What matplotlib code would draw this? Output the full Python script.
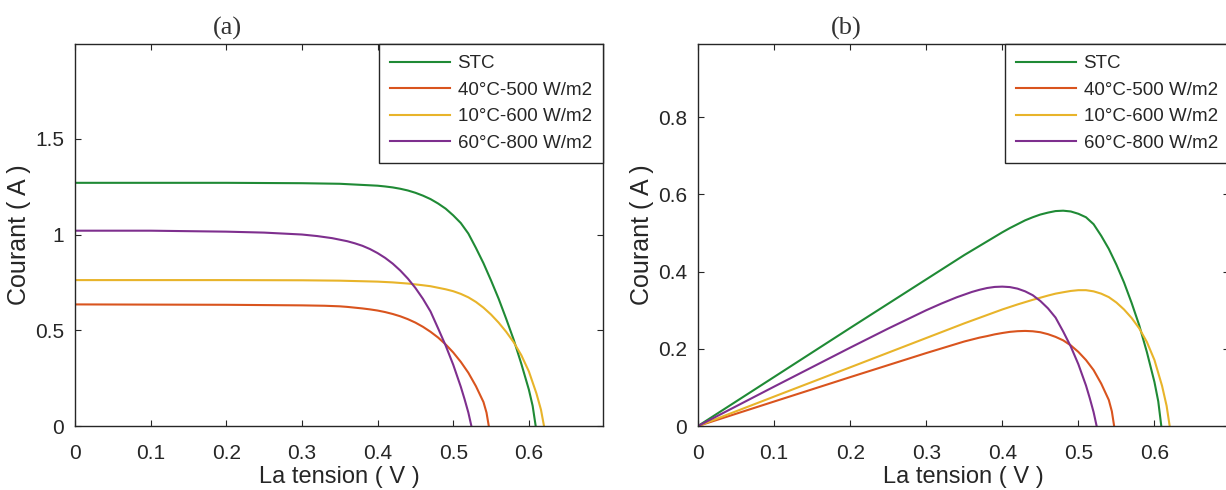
import numpy as np
import matplotlib.pyplot as plt

# --- data --------------------------------------------------------------
labels = ["STC", "40°C-500 W/m2", "10°C-600 W/m2", "60°C-800 W/m2"]
colors = ["#1f8a35", "#d9541e", "#e8b42a", "#7e2f8e"]

# (a) current vs voltage
v_stc = [0, 0.1, 0.2, 0.3, 0.35, 0.40, 0.41, 0.42, 0.43, 0.44, 0.45, 0.46, 0.47, 0.48, 0.49,
         0.50, 0.51, 0.52, 0.53, 0.54, 0.55, 0.56, 0.57, 0.58, 0.59, 0.60, 0.605, 0.609]
i_stc = [1.27, 1.27, 1.27, 1.268, 1.265, 1.255, 1.251, 1.246, 1.239, 1.23, 1.218, 1.203, 1.185,
         1.162, 1.135, 1.10, 1.06, 1.005, 0.93, 0.85, 0.76, 0.665, 0.56, 0.45, 0.325, 0.19, 0.105, 0.0]

v_40 = [0, 0.1, 0.2, 0.3, 0.33, 0.35, 0.36, 0.37, 0.38, 0.39, 0.40, 0.41, 0.42, 0.43, 0.44, 0.45,
        0.46, 0.47, 0.48, 0.49, 0.50, 0.51, 0.52, 0.53, 0.54, 0.544, 0.547]
i_40 = [0.635, 0.634, 0.633, 0.63, 0.628, 0.625, 0.622, 0.618, 0.614, 0.609, 0.603, 0.595, 0.585,
        0.573, 0.558, 0.54, 0.518, 0.492, 0.462, 0.426, 0.384, 0.335, 0.278, 0.208, 0.125, 0.07, 0.0]

v_10 = [0, 0.1, 0.2, 0.3, 0.35, 0.40, 0.42, 0.44, 0.46, 0.47, 0.48, 0.49, 0.50, 0.51, 0.52,
        0.53, 0.54, 0.55, 0.56, 0.57, 0.58, 0.59, 0.60, 0.61, 0.616, 0.62]
i_10 = [0.762, 0.762, 0.762, 0.761, 0.759, 0.754, 0.75, 0.744, 0.735, 0.73, 0.722, 0.714, 0.704,
        0.69, 0.672, 0.648, 0.618, 0.582, 0.54, 0.492, 0.437, 0.37, 0.285, 0.17, 0.085, 0.0]

v_60 = [0, 0.1, 0.2, 0.25, 0.30, 0.32, 0.34, 0.36, 0.37, 0.38, 0.39, 0.40, 0.41, 0.42, 0.43,
        0.44, 0.45, 0.46, 0.47, 0.48, 0.49, 0.50, 0.51, 0.515, 0.52, 0.524]
i_60 = [1.02, 1.02, 1.015, 1.01, 1.0, 0.992, 0.981, 0.965, 0.954, 0.941, 0.924, 0.903, 0.878,
        0.848, 0.812, 0.77, 0.721, 0.664, 0.598, 0.51, 0.42, 0.32, 0.205, 0.14, 0.07, 0.0]

# (b) power curves (axis labelled "Courant" in the original), same voltage grids
p_stc = [0, 0.127, 0.254, 0.380, 0.443, 0.502, 0.513, 0.523, 0.533, 0.541, 0.548, 0.553, 0.557,
         0.558, 0.556, 0.550, 0.541, 0.523, 0.493, 0.459, 0.418, 0.372, 0.319, 0.261, 0.192,
         0.114, 0.064, 0.0]
p_40 = [0, 0.0634, 0.1266, 0.189, 0.207, 0.219, 0.224, 0.229, 0.233, 0.2375, 0.241, 0.244, 0.2457,
        0.2464, 0.2455, 0.243, 0.238, 0.231, 0.222, 0.209, 0.192, 0.171, 0.145, 0.110, 0.0675,
        0.038, 0.0]
p_10 = [0, 0.0762, 0.152, 0.228, 0.266, 0.302, 0.315, 0.327, 0.338, 0.343, 0.3466, 0.350, 0.352,
        0.352, 0.349, 0.343, 0.334, 0.320, 0.302, 0.280, 0.253, 0.218, 0.171, 0.104, 0.052, 0.0]
p_60 = [0, 0.102, 0.203, 0.2525, 0.300, 0.3174, 0.3335, 0.3474, 0.353, 0.3576, 0.3604, 0.3612,
        0.360, 0.356, 0.349, 0.339, 0.324, 0.305, 0.281, 0.245, 0.206, 0.160, 0.105, 0.072,
        0.036, 0.0]

volts = [v_stc, v_40, v_10, v_60]
currents = [i_stc, i_40, i_10, i_60]
powers = [p_stc, p_40, p_10, p_60]

plt.rcParams["font.family"] = ["Liberation Sans", "DejaVu Sans"]
axis_col = "#262626"

fig = plt.figure(figsize=(12.26, 4.9), dpi=100)
W, H = 1226.0, 490.0
ax_a = fig.add_axes([75 / W, 64 / H, 528 / W, 382 / H])
ax_b = fig.add_axes([698 / W, 64 / H, 531 / W, 382 / H])

panels = [
    (ax_a, currents, (0, 1.995), [0, 0.5, 1, 1.5], ["0", "0.5", "1", "1.5"]),
    (ax_b, powers, (0, 0.99), [0, 0.2, 0.4, 0.6, 0.8], ["0", "0.2", "0.4", "0.6", "0.8"]),
]

for ax, ys, ylim, yt, ytl in panels:
    for v, y, c, lab in zip(volts, ys, colors, labels):
        ax.plot(v, y, color=c, lw=1.5, label=lab)
    ax.set_xlim(0, 0.698)
    ax.set_ylim(*ylim)
    ax.set_xticks([0, 0.1, 0.2, 0.3, 0.4, 0.5, 0.6])
    ax.set_xticklabels(["0", "0.1", "0.2", "0.3", "0.4", "0.5", "0.6"])
    ax.set_yticks(yt)
    ax.set_yticklabels(ytl)
    ax.tick_params(direction="in", length=4, width=0.8, top=True, right=True,
                   labelsize=15, colors=axis_col)
    ax.tick_params(axis="x", pad=13)
    ax.tick_params(axis="y", pad=8)
    for sp in ax.spines.values():
        sp.set_color(axis_col)
        sp.set_linewidth(1.0)
    ax.set_xlabel("La tension ( V )", fontsize=17, color=axis_col, labelpad=2)
    ax.set_ylabel("Courant ( A )", fontsize=18, color=axis_col, labelpad=3)
    leg = ax.legend(loc="upper right", fontsize=13.5, frameon=True, fancybox=False,
                    borderaxespad=0, handlelength=3.2, handletextpad=0.4,
                    labelspacing=0.5, borderpad=0.6)
    leg.get_frame().set_edgecolor(axis_col)
    leg.get_frame().set_linewidth(1.0)
    leg.get_frame().set_alpha(1)
    for t in leg.get_texts():
        t.set_color(axis_col)

fig.text(227 / W, 1 - 28 / H, "(a)", family="Liberation Serif", fontsize=19,
         ha="center", va="center", color="#333333")
fig.text(846 / W, 1 - 28 / H, "(b)", family="Liberation Serif", fontsize=19,
         ha="center", va="center", color="#333333")

fig.savefig("out.png", dpi=100, facecolor="white")
